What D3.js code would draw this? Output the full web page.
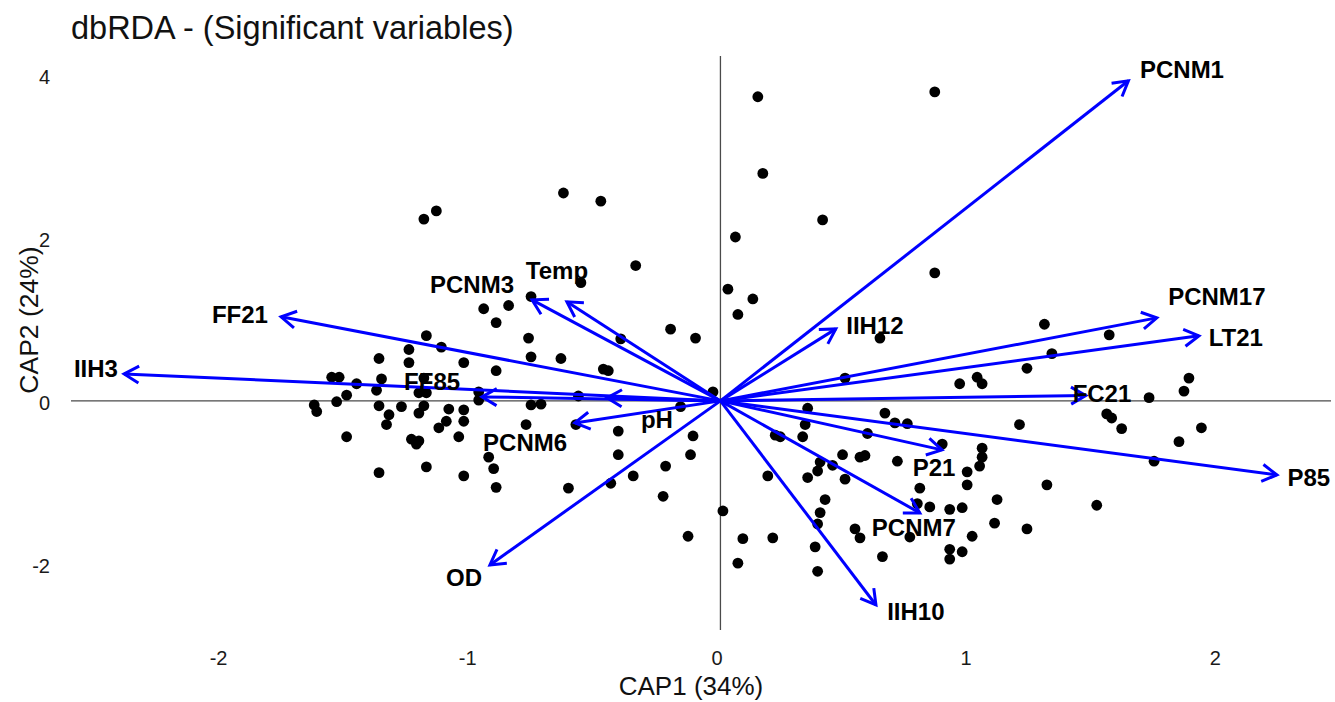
<!DOCTYPE html>
<html>
<head>
<meta charset="utf-8">
<script src="https://cdn.jsdelivr.net/npm/d3@7/dist/d3.min.js"></script>
<style>
  html, body { margin: 0; padding: 0; background: #ffffff; }
  svg { display: block; }
  text { font-family: "Liberation Sans", Arial, Helvetica, sans-serif; }
</style>
</head>
<body>
<svg id="chart" width="1335" height="702"></svg>
<script>
// Site scores on the first two constrained axes
const siteCAP1 = [0.15,0.86,0.17,0.41,-0.63,-0.48,-1.19,-1.14,0.06,-0.34,0.86,0.03,0.13,0.07,-0.56,-0.76,-0.95,-0.85,-0.90,-0.20,
  -0.10,-0.40,-0.77,-1.18,-1.12,-1.25,-1.37,-1.25,-1.03,-0.76,-0.64,-0.90,-0.47,-0.45,-1.56,-1.53,-1.46,-1.36,-1.38,-1.50,
  -1.19,-1.21,-1.18,-0.97,-0.97,-1.54,-1.63,-1.62,-1.37,-1.28,-1.19,-1.09,-1.03,-0.03,-0.57,-0.76,-0.72,-0.16,-1.33,-1.21,
  -1.10,-1.03,-1.34,-1.13,-0.78,-0.58,-0.41,-1.05,-1.50,-1.24,-1.22,-1.21,-1.18,-1.37,-1.03,-0.93,-0.91,-0.90,-0.41,-0.35,
  -0.44,-0.61,-0.22,-0.23,-0.12,-0.11,0.01,-0.13,0.09,0.07,0.19,0.21,0.38,0.39,0.39,0.40,0.42,0.35,0.39,0.40,
  0.45,0.50,0.49,0.56,0.58,0.59,0.66,0.70,0.75,0.71,0.80,0.79,0.84,0.92,0.97,0.89,0.99,0.99,1.05,1.05,
  1.04,0.54,0.56,0.76,0.65,0.92,0.92,0.97,1.01,1.10,1.11,1.23,1.31,1.51,1.20,1.55,1.57,1.61,1.93,1.84,
  1.74,0.35,0.34,0.33,0.24,0.22,0.50,0.64,0.96,1.03,1.05,1.23,1.30,1.33,1.56,1.72,1.88,1.86];
const siteCAP2 = [3.73,3.79,2.79,2.22,2.55,2.45,2.23,2.33,2.01,1.66,1.57,1.37,1.25,1.06,1.45,1.28,1.13,1.17,0.96,0.88,
  0.77,0.76,0.77,0.80,0.66,0.63,0.52,0.47,0.47,0.54,0.52,0.37,0.39,0.37,0.29,0.29,0.21,0.27,0.13,0.07,
  0.28,0.10,0.10,0.11,0.01,-0.01,-0.05,-0.13,-0.06,-0.07,-0.06,-0.10,-0.11,0.11,0.06,-0.05,-0.04,-0.07,-0.17,-0.15,
  -0.25,-0.25,-0.29,-0.33,-0.29,-0.29,-0.37,-0.44,-0.44,-0.47,-0.53,-0.49,-0.81,-0.88,-0.92,-0.69,-0.83,-1.06,-0.66,-0.92,
  -1.01,-1.07,-0.80,-1.17,-0.66,-0.43,-1.35,-1.66,-1.69,-1.99,-0.92,-1.68,-1.79,-2.09,-1.51,-1.37,-1.21,-0.94,-0.86,-0.75,
  -0.79,-0.96,-0.66,-0.69,-0.67,-0.40,-0.15,-0.27,-0.28,-0.74,-1.07,-1.26,-1.30,-1.33,-1.31,-0.53,-0.87,-1.03,-0.58,-0.69,
  -0.80,-1.57,-1.68,-1.67,-1.91,-1.82,-1.94,-1.85,-1.66,-1.50,-1.21,-1.57,-1.03,-1.28,-0.29,-0.16,-0.21,-0.34,-0.33,-0.50,
  -0.74,-0.09,-0.29,-0.44,-0.44,-0.42,0.28,0.77,0.21,0.29,0.21,0.40,0.94,0.58,0.81,0.04,0.28,0.12];

// Fitted explanatory variables (biplot arrows)
const varNames  = ["PCNM1","PCNM17","LT21","FC21","P85","P21","PCNM7","IIH10","IIH12","OD","PCNM6","pH","FF85","IIH3","FF21","PCNM3","Temp"];
const varCAP1   = [1.637,1.751,1.920,1.466,2.233,0.889,0.800,0.624,0.463,-0.925,-0.584,-0.455,-0.957,-2.393,-1.763,-0.756,-0.616];
const varCAP2   = [3.926,1.018,0.798,0.067,-0.908,-0.601,-1.374,-2.503,0.883,-2.012,-0.270,0.037,0.049,0.331,1.031,1.239,1.215];
// Where each variable name is written
const labelCAP1 = [1.852,1.992,2.068,1.531,2.361,0.857,0.776,0.784,0.620,-1.029,-0.784,-0.255,-1.157,-2.506,-1.928,-0.997,-0.656];
const labelCAP2 = [4.061,1.276,0.773,0.086,-0.945,-0.822,-1.558,-2.577,0.920,-2.172,-0.515,-0.233,0.233,0.393,1.055,1.423,1.595];

// Axis ticks and titles
const xTicks = [-2, -1, 0, 1, 2];
const yTicks = [-2, 0, 2, 4];
const titleText = "dbRDA - (Significant variables)";
const xTitle = "CAP1 (34%)";
const yTitle = "CAP2 (24%)";

const svg = d3.select("#chart");

const x = d3.scaleLinear().domain([-2.606, 2.45]).range([71, 1331]);
const y = d3.scaleLinear().domain([-2.81, 4.23]).range([630, 56]);

// Title
svg.append("text")
  .attr("x", 71).attr("y", 39)
  .attr("font-size", 32.5)
  .attr("fill", "#111")
  .text(titleText);

// Reference lines through the origin
svg.append("line")
  .attr("x1", x(-2.606)).attr("x2", x(2.45))
  .attr("y1", y(0)).attr("y2", y(0))
  .attr("stroke", "#4a4a4a").attr("stroke-width", 1.3);
svg.append("line")
  .attr("x1", x(0)).attr("x2", x(0))
  .attr("y1", y(-2.81)).attr("y2", y(4.23))
  .attr("stroke", "#4a4a4a").attr("stroke-width", 1.3);

// Axes (labels only, no domain line or tick marks)
const tickFmt = d => String(d);
const xAxis = svg.append("g")
  .attr("transform", `translate(-4, ${653})`)
  .call(d3.axisBottom(x).tickValues(xTicks).tickSize(0).tickPadding(0).tickFormat(tickFmt));
xAxis.select(".domain").remove();
xAxis.selectAll("text")
  .attr("font-size", 20).attr("fill", "#1a1a1a")
  .attr("font-family", "Liberation Sans, Arial, sans-serif")
  .attr("dy", "0.71em").attr("y", -2);

const yAxis = svg.append("g")
  .attr("transform", `translate(50, 2)`)
  .call(d3.axisLeft(y).tickValues(yTicks).tickSize(0).tickPadding(0).tickFormat(tickFmt));
yAxis.select(".domain").remove();
yAxis.selectAll("text")
  .attr("font-size", 20).attr("fill", "#1a1a1a")
  .attr("font-family", "Liberation Sans, Arial, sans-serif");

// Axis titles
svg.append("text")
  .attr("x", 691).attr("y", 686)
  .attr("text-anchor", "middle").attr("dominant-baseline", "central")
  .attr("font-size", 26).attr("fill", "#111")
  .text(xTitle);
svg.append("text")
  .attr("transform", "translate(29, 320) rotate(-90)")
  .attr("text-anchor", "middle").attr("dominant-baseline", "central")
  .attr("font-size", 26.5).attr("fill", "#111")
  .text(yTitle);

// Sites
svg.append("g").selectAll("circle")
  .data(d3.range(siteCAP1.length))
  .join("circle")
  .attr("cx", i => x(siteCAP1[i]))
  .attr("cy", i => y(siteCAP2[i]))
  .attr("r", 5.4)
  .attr("fill", "#000");

// Variable arrows with open heads
const arrows = varNames.map((name, i) => ({
  name, x1: varCAP1[i], y1: varCAP2[i], lx: labelCAP1[i], ly: labelCAP2[i]
}));
const headLen = 17, headAngle = Math.PI / 6;
const ag = svg.append("g")
  .attr("stroke", "#0000ff").attr("stroke-width", 3)
  .attr("fill", "none").attr("stroke-linecap", "butt").attr("stroke-linejoin", "miter");
arrows.forEach(a => {
  const x0 = x(0), y0 = y(0), xt = x(a.x1), yt = y(a.y1);
  const ang = Math.atan2(yt - y0, xt - x0);
  ag.append("line").attr("x1", x0).attr("y1", y0).attr("x2", xt).attr("y2", yt);
  const p1 = [xt - headLen * Math.cos(ang - headAngle), yt - headLen * Math.sin(ang - headAngle)];
  const p2 = [xt - headLen * Math.cos(ang + headAngle), yt - headLen * Math.sin(ang + headAngle)];
  ag.append("path").attr("d", `M${p1[0]},${p1[1]}L${xt},${yt}L${p2[0]},${p2[1]}`);
});

// Variable names
svg.append("g").selectAll("text")
  .data(arrows)
  .join("text")
  .attr("x", d => x(d.lx))
  .attr("y", d => y(d.ly))
  .attr("text-anchor", "middle")
  .attr("dominant-baseline", "central")
  .attr("font-size", 24)
  .attr("font-weight", "bold")
  .attr("fill", "#000")
  .text(d => d.name);
</script>
</body>
</html>
